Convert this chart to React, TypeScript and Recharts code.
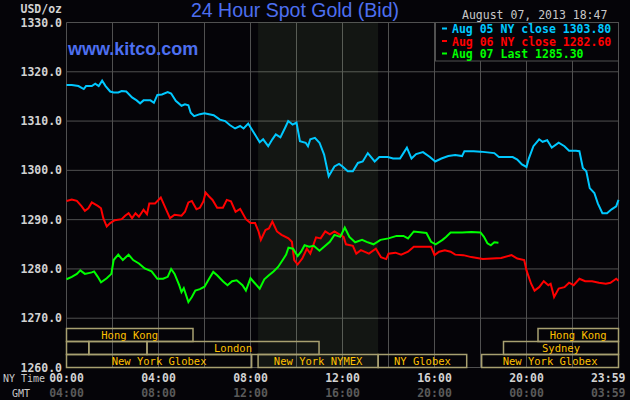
import React from 'react';
import { ComposedChart, Line, XAxis, YAxis, CartesianGrid, ReferenceArea } from 'recharts';

// hours since 00:00 NY time, spot price
const aug05Close: [number, number][] = [
  [0, 1317.3], [0.23, 1317.3], [0.52, 1317.1], [0.75, 1316.5], [0.85, 1317.1], [1.1, 1317.1], [1.25, 1317.6],
  [1.4, 1317.1], [1.55, 1318.2], [1.7, 1317.1], [1.9, 1316.0], [2.05, 1315.8], [2.25, 1315.8], [2.4, 1316.1],
  [2.6, 1316.0], [2.85, 1314.8], [3.05, 1314.2], [3.2, 1313.6], [3.35, 1314.2], [3.65, 1314.2], [3.8, 1313.7],
  [3.95, 1315.3], [4.15, 1315.4], [4.4, 1315.9], [4.55, 1315.6], [4.75, 1314.1], [5.0, 1313.1], [5.15, 1313.4],
  [5.3, 1313.2], [5.4, 1311.7], [5.55, 1311.0], [5.8, 1311.4], [6.0, 1311.6], [6.2, 1311.4], [6.4, 1311.2],
  [6.67, 1310.3], [6.9, 1310.0], [7.1, 1309.2], [7.33, 1308.5], [7.55, 1309.0], [7.7, 1308.5], [7.9, 1309.5],
  [8.1, 1308.0], [8.4, 1305.7], [8.55, 1306.3], [8.77, 1304.9], [8.95, 1306.3], [9.1, 1307.3], [9.3, 1306.7],
  [9.5, 1308.6], [9.64, 1310.0], [9.83, 1309.3], [10.0, 1309.7], [10.15, 1305.9], [10.4, 1305.6], [10.5, 1304.9],
  [10.6, 1306.3], [10.8, 1306.6], [11.0, 1305.6], [11.2, 1303.2], [11.4, 1298.8], [11.65, 1300.8], [11.85, 1301.3],
  [12.0, 1300.8], [12.23, 1299.8], [12.45, 1299.8], [12.67, 1301.5], [12.88, 1301.8], [13.1, 1303.5], [13.4, 1301.8],
  [13.6, 1302.7], [13.97, 1302.7], [14.2, 1302.4], [14.5, 1302.4], [14.65, 1303.5], [14.8, 1304.6], [15.0, 1302.4],
  [15.2, 1303.3], [15.5, 1303.7], [15.8, 1302.7], [16.03, 1301.8], [16.3, 1302.4], [16.6, 1302.9], [16.9, 1303.1],
  [17.2, 1302.9], [17.3, 1303.9], [17.7, 1303.9], [18.0, 1303.8], [18.2, 1303.7], [18.6, 1303.5], [18.8, 1302.7],
  [19.4, 1302.7], [19.6, 1302.2], [19.8, 1301.2], [20.0, 1300.7], [20.1, 1302.4], [20.3, 1304.9], [20.55, 1306.3],
  [20.7, 1305.8], [20.9, 1306.1], [21.1, 1304.6], [21.4, 1305.6], [21.65, 1304.9], [21.85, 1304.0], [22.15, 1304.0],
  [22.3, 1303.9], [22.45, 1300.5], [22.6, 1299.8], [22.75, 1296.4], [22.95, 1295.4], [23.1, 1293.3], [23.3, 1291.3],
  [23.5, 1291.3], [23.7, 1292.1], [23.9, 1292.7], [24.0, 1294.0],
];

const aug06Close: [number, number][] = [
  [0, 1293.8], [0.23, 1294.1], [0.45, 1293.8], [0.66, 1292.7], [0.8, 1291.8], [0.95, 1292.3], [1.1, 1293.5],
  [1.36, 1292.8], [1.5, 1292.3], [1.6, 1290.3], [1.75, 1288.6], [1.9, 1289.3], [2.1, 1289.9], [2.4, 1290.1],
  [2.55, 1290.8], [2.7, 1291.3], [2.85, 1290.3], [3.0, 1291.3], [3.15, 1290.6], [3.35, 1292.0], [3.5, 1291.1],
  [3.6, 1293.3], [3.85, 1293.3], [4.1, 1294.5], [4.3, 1292.4], [4.5, 1290.3], [4.7, 1291.0], [5.0, 1290.8],
  [5.15, 1291.6], [5.3, 1293.5], [5.45, 1293.8], [5.65, 1292.1], [5.8, 1292.4], [5.95, 1293.7], [6.05, 1295.5],
  [6.2, 1294.7], [6.35, 1294.0], [6.55, 1292.4], [6.8, 1292.4], [6.97, 1294.0], [7.15, 1293.7], [7.35, 1291.6],
  [7.55, 1292.2], [7.8, 1290.1], [8.0, 1289.3], [8.2, 1289.3], [8.35, 1287.6], [8.45, 1285.9], [8.65, 1287.9],
  [8.8, 1288.2], [8.95, 1289.6], [9.15, 1287.6], [9.35, 1286.9], [9.65, 1286.2], [9.8, 1285.5], [9.9, 1281.8],
  [10.05, 1280.9], [10.25, 1282.1], [10.45, 1284.1], [10.6, 1283.1], [10.85, 1286.4], [11.05, 1286.2], [11.25, 1287.6],
  [11.45, 1287.0], [11.65, 1287.6], [11.9, 1286.9], [12.05, 1286.5], [12.15, 1285.0], [12.45, 1284.7], [12.6, 1283.1],
  [12.8, 1283.8], [12.95, 1283.5], [13.15, 1283.1], [13.45, 1284.1], [13.67, 1282.4], [13.9, 1282.0], [14.0, 1283.1],
  [14.3, 1283.3], [14.55, 1282.9], [14.85, 1283.5], [15.1, 1284.5], [15.5, 1284.5], [15.85, 1284.5], [16.0, 1282.8],
  [16.2, 1283.5], [16.45, 1283.8], [16.7, 1283.5], [16.9, 1282.9], [17.25, 1282.8], [17.6, 1282.4], [18.1, 1282.0],
  [18.5, 1282.1], [18.9, 1282.2], [19.35, 1282.8], [19.6, 1282.1], [19.9, 1281.8], [20.0, 1279.7], [20.2, 1277.0],
  [20.35, 1275.6], [20.55, 1276.3], [20.75, 1277.5], [20.95, 1276.7], [21.05, 1277.0], [21.2, 1274.3], [21.4, 1276.0],
  [21.65, 1276.3], [21.85, 1277.2], [22.05, 1276.7], [22.3, 1278.0], [22.55, 1277.5], [22.85, 1277.5], [23.15, 1277.2],
  [23.45, 1277.0], [23.65, 1277.2], [23.9, 1278.0], [24.0, 1277.6],
];

const aug07Last: [number, number][] = [
  [0, 1277.9], [0.23, 1278.4], [0.45, 1279.0], [0.6, 1279.7], [0.8, 1279.0], [1.1, 1279.3], [1.2, 1279.5],
  [1.36, 1278.4], [1.5, 1277.3], [1.75, 1278.1], [1.95, 1279.0], [2.05, 1281.8], [2.25, 1282.9], [2.45, 1281.8],
  [2.7, 1282.9], [2.9, 1281.8], [3.15, 1281.1], [3.4, 1280.1], [3.7, 1279.5], [3.95, 1278.0], [4.2, 1278.0],
  [4.4, 1278.4], [4.55, 1280.0], [4.7, 1279.0], [4.9, 1276.7], [5.0, 1275.3], [5.1, 1276.1], [5.3, 1273.3],
  [5.45, 1274.3], [5.6, 1275.6], [5.8, 1275.9], [6.0, 1276.4], [6.2, 1278.0], [6.38, 1279.4], [6.55, 1278.7],
  [6.8, 1277.5], [7.0, 1276.7], [7.2, 1277.5], [7.4, 1277.7], [7.65, 1276.7], [7.8, 1275.6], [8.0, 1278.1],
  [8.15, 1277.3], [8.4, 1276.0], [8.6, 1277.9], [8.8, 1278.7], [9.0, 1279.5], [9.2, 1280.4], [9.4, 1281.8],
  [9.55, 1282.9], [9.65, 1284.3], [9.85, 1284.1], [10.05, 1282.6], [10.2, 1283.5], [10.35, 1284.8], [10.55, 1284.5],
  [10.75, 1284.7], [11.0, 1283.7], [11.2, 1284.5], [11.45, 1285.5], [11.65, 1286.9], [11.9, 1286.5], [12.1, 1288.4],
  [12.3, 1286.5], [12.55, 1285.4], [12.85, 1285.9], [13.05, 1285.5], [13.35, 1285.0], [13.65, 1285.9], [14.0, 1286.2],
  [14.35, 1286.7], [14.65, 1286.7], [14.85, 1286.2], [15.1, 1287.6], [15.65, 1287.3], [15.85, 1285.5], [16.05, 1285.0],
  [16.35, 1285.9], [16.5, 1286.5], [16.7, 1287.4], [17.2, 1287.4], [17.6, 1287.5], [18.0, 1287.4], [18.15, 1286.5],
  [18.3, 1285.2], [18.45, 1284.8], [18.6, 1285.4], [18.78, 1285.3],
];

const hourTicks = [0, 2, 4, 6, 8, 10, 12, 14, 16, 18, 20, 22, 24];
const priceTicks = [1260, 1270, 1280, 1290, 1300, 1310, 1320, 1330];
const nyLabels: Record<number, string> = { 0: '00:00', 4: '04:00', 8: '08:00', 12: '12:00', 16: '16:00', 20: '20:00', 24: '23:59' };
const gmtLabels: Record<number, string> = { 0: '04:00', 4: '08:00', 8: '12:00', 12: '16:00', 16: '20:00', 20: '00:00', 24: '03:59' };

const legendItems = [
  { text: 'Aug 05 NY close 1303.80', color: '#00c8ff' },
  { text: 'Aug 06 NY close 1282.60', color: '#ff0000' },
  { text: 'Aug 07 Last 1285.30', color: '#00ff00' },
];

// trading sessions (row, from hour, to hour)
const rowEdges = [1267.9, 1265.3, 1262.65, 1260];
const sessions = [
  { name: 'Hong Kong', row: 0, from: 0, to: 5.5 },
  { name: 'Hong Kong', row: 0, from: 20.5, to: 24 },
  { name: '', row: 1, from: 0, to: 0.97 },
  { name: '', row: 1, from: 0.97, to: 3.5 },
  { name: 'London', row: 1, from: 3.5, to: 10.98 },
  { name: 'Sydney', row: 1, from: 19, to: 24 },
  { name: 'New York Globex', row: 2, from: 0, to: 8.05 },
  { name: 'New York NYMEX', row: 2, from: 8.33, to: 13.55 },
  { name: 'NY Globex', row: 2, from: 13.55, to: 17.4 },
  { name: 'New York Globex', row: 2, from: 18.05, to: 24 },
];

const toRows = (pts: [number, number][]) => pts.map(([h, v]) => ({ h, v }));

const MONO = '"DejaVu Sans Mono", monospace';
const BG = '#050408';
const GRID = '#505050';

const XTick = (props: any) => {
  const { x, payload } = props;
  const v = payload.value;
  if (!(v in nyLabels)) return null;
  const anchor = v === 24 ? 'end' : 'middle';
  const tx = v === 24 ? x + 7 : x;
  return (
    <g>
      <text x={tx} y={382} textAnchor={anchor} fill="#d2d2d2" fontFamily={MONO} fontSize={11.5} fontWeight="bold">
        {nyLabels[v]}
      </text>
      <text x={tx} y={397} textAnchor={anchor} fill="#5a5a5a" fontFamily={MONO} fontSize={11.5} fontWeight="bold">
        {gmtLabels[v]}
      </text>
    </g>
  );
};

const YTick = (props: any) => {
  const { y, payload } = props;
  return (
    <text x={62} y={y + 4} textAnchor="end" fill="#d2d2d2" fontFamily={MONO} fontSize={11.5} fontWeight="bold">
      {payload.value.toFixed(1)}
    </text>
  );
};

export default function App() {
  return (
    <div style={{ position: 'absolute', left: 0, top: 0, width: 630, height: 400, background: BG }}>
      <ComposedChart width={630} height={400} margin={{ top: 22.5, right: 11.5, bottom: 0, left: 0.5 }}>
        <CartesianGrid stroke={GRID} strokeWidth={1} />
        <XAxis
          dataKey="h"
          type="number"
          domain={[0, 24]}
          ticks={hourTicks}
          interval={0}
          height={32.5}
          axisLine={false}
          tickLine={false}
          tick={<XTick />}
        />
        <YAxis
          type="number"
          domain={[1260, 1330]}
          ticks={priceTicks}
          interval={0}
          width={66}
          axisLine={false}
          tickLine={false}
          tick={<YTick />}
        />
        <ReferenceArea x1={8.33} x2={13.55} fill="rgb(192,241,158)" fillOpacity={0.08} stroke="none" />
        {sessions.map((s, i) => (
          <ReferenceArea
            key={i}
            x1={s.from}
            x2={s.to}
            y1={rowEdges[s.row + 1]}
            y2={rowEdges[s.row]}
            fill="none"
            stroke="#a8a070"
            strokeWidth={1.5}
            label={{ value: s.name, position: 'center', fill: '#ffc000', fontSize: 10.5, fontFamily: MONO }}
          />
        ))}
        <Line data={toRows(aug05Close)} dataKey="v" type="linear" stroke="#00c8ff" strokeWidth={2} dot={false} isAnimationActive={false} />
        <Line data={toRows(aug06Close)} dataKey="v" type="linear" stroke="#ff0000" strokeWidth={2} dot={false} isAnimationActive={false} />
        <Line data={toRows(aug07Last)} dataKey="v" type="linear" stroke="#00ff00" strokeWidth={2} dot={false} isAnimationActive={false} />
      </ComposedChart>
      <svg width={630} height={400} style={{ position: 'absolute', left: 0, top: 0, pointerEvents: 'none' }}>
        <text x={62} y={12.5} textAnchor="end" fill="#d2d2d2" fontFamily={MONO} fontSize={11.5} fontWeight="bold">USD/oz</text>
        <text x={295} y={17} textAnchor="middle" fill="#4d6ff0" fontFamily='"Liberation Sans", Arial, sans-serif' fontSize={19.5}>
          24 Hour Spot Gold (Bid)
        </text>
        <text x={68} y={55} fill="#4d6ff0" fontFamily='"Liberation Sans", Arial, sans-serif' fontSize={18} fontWeight="bold">
          www.kitco.com
        </text>
        <text x={462} y={19} fill="#c8c8c8" fontFamily={MONO} fontSize={11.5}>August 07, 2013 18:47</text>
        <rect x={435.5} y={22.5} width={183} height={38.5} fill={BG} stroke={GRID} />
        {legendItems.map((it, i) => (
          <g key={i}>
            <rect x={442} y={27.5 + i * 12.5} width={5} height={2} fill={it.color} />
            <text x={452} y={33 + i * 12.5} fill={it.color} fontFamily={MONO} fontSize={11.5} fontWeight="bold">{it.text}</text>
          </g>
        ))}
        <text x={3} y={382} fill="#c8c8c8" fontFamily={MONO} fontSize={10}>NY Time</text>
        <text x={12} y={397} fill="#c8c8c8" fontFamily={MONO} fontSize={10}>GMT</text>
      </svg>
    </div>
  );
}
